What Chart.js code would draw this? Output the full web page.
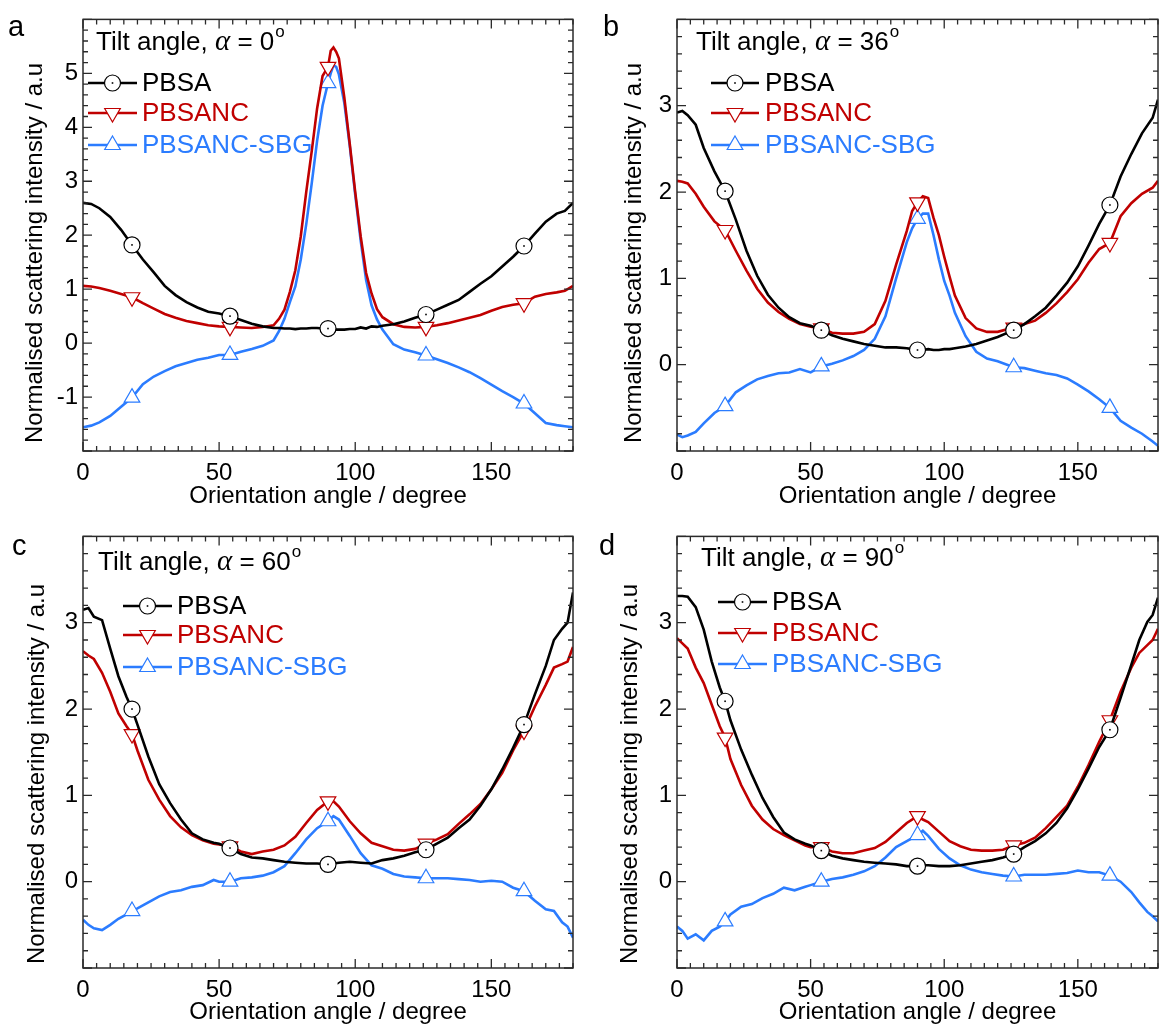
<!DOCTYPE html>
<html>
<head>
<meta charset="utf-8">
<script src="https://cdn.jsdelivr.net/npm/chart.js@4.4.1/dist/chart.umd.min.js"></script>
<style>
body{margin:0;background:#fff;}
.pane{position:absolute;}
</style>
</head>
<body>
<div class="pane" style="left:0;top:0"><canvas id="cA" width="585" height="515"></canvas></div>
<div class="pane" style="left:590px;top:0"><canvas id="cB" width="576" height="515"></canvas></div>
<div class="pane" style="left:0;top:517px"><canvas id="cC" width="585" height="513"></canvas></div>
<div class="pane" style="left:590px;top:517px"><canvas id="cD" width="576" height="513"></canvas></div>
<script>
// series names and marker positions (orientation angle, degree)
var names = ['PBSA', 'PBSANC', 'PBSANC-SBG'];
var marks = [18, 54, 90, 126, 162];

// a : tilt angle 0
var angA = [0,3,6,10,14,18,22,26,30,34,38,42,46,50,54,58,62,66,70,72,74,76,78,80,82,84,86,88,90,91,92,93,94,96,98,100,102,104,106,108,110,114,118,122,126,130,134,138,142,146,150,154,158,162,166,170,174,177,180];
var pbsaA = [2.60,2.58,2.50,2.34,2.10,1.82,1.55,1.31,1.06,0.89,0.76,0.66,0.58,0.55,0.50,0.43,0.36,0.31,0.28,0.28,0.27,0.27,0.26,0.27,0.27,0.28,0.28,0.27,0.27,0.26,0.26,0.25,0.25,0.25,0.26,0.26,0.29,0.27,0.31,0.30,0.32,0.35,0.40,0.47,0.53,0.62,0.71,0.80,0.95,1.10,1.24,1.42,1.60,1.80,2.03,2.25,2.40,2.45,2.60];
var ncA = [1.06,1.05,1.02,0.97,0.91,0.85,0.74,0.64,0.54,0.47,0.41,0.37,0.33,0.31,0.30,0.29,0.28,0.30,0.33,0.45,0.62,0.95,1.35,1.98,2.80,3.55,4.35,4.95,5.12,5.42,5.48,5.40,5.28,4.55,3.69,2.80,1.98,1.30,0.92,0.63,0.48,0.35,0.30,0.29,0.30,0.33,0.37,0.42,0.47,0.52,0.60,0.67,0.71,0.74,0.86,0.91,0.94,0.97,1.06];
var sbgA = [-1.56,-1.53,-1.47,-1.35,-1.18,-1.01,-0.76,-0.62,-0.52,-0.43,-0.37,-0.31,-0.27,-0.22,-0.22,-0.16,-0.11,-0.05,0.05,0.22,0.45,0.76,1.05,1.55,2.20,2.95,3.75,4.40,4.82,5.00,5.15,5.12,4.98,4.45,3.65,2.75,1.90,1.17,0.70,0.44,0.25,-0.02,-0.12,-0.17,-0.23,-0.30,-0.37,-0.45,-0.54,-0.65,-0.77,-0.89,-1.00,-1.12,-1.30,-1.48,-1.52,-1.54,-1.56];

// b : tilt angle 36
var angB = [0,2,4,7,10,14,18,22,26,30,34,38,42,46,50,54,58,62,66,70,74,78,82,86,88,90,92,94,96,98,100,102,104,108,112,116,120,126,130,134,138,142,146,150,154,158,162,166,170,174,178,180];
var pbsaB = [2.92,2.94,2.89,2.78,2.51,2.24,2.01,1.68,1.32,1.03,0.81,0.66,0.55,0.48,0.45,0.40,0.34,0.30,0.27,0.24,0.22,0.20,0.20,0.19,0.18,0.17,0.17,0.18,0.17,0.17,0.18,0.18,0.19,0.21,0.24,0.28,0.32,0.40,0.47,0.56,0.66,0.80,0.95,1.14,1.38,1.63,1.85,2.18,2.44,2.68,2.86,3.07];
var ncB = [2.13,2.12,2.10,1.98,1.83,1.66,1.56,1.32,1.09,0.88,0.72,0.61,0.53,0.47,0.44,0.42,0.37,0.36,0.36,0.38,0.47,0.74,1.16,1.55,1.78,1.88,1.95,1.93,1.70,1.50,1.25,1.02,0.80,0.54,0.42,0.38,0.38,0.43,0.47,0.51,0.60,0.71,0.84,0.99,1.18,1.34,1.41,1.72,1.87,1.98,2.05,2.13];
var sbgB = [-0.81,-0.84,-0.82,-0.78,-0.68,-0.56,-0.48,-0.32,-0.24,-0.17,-0.13,-0.10,-0.09,-0.05,-0.09,-0.02,0.01,0.05,0.10,0.17,0.30,0.56,1.00,1.42,1.58,1.69,1.75,1.75,1.50,1.22,0.97,0.80,0.60,0.33,0.15,0.07,0.04,-0.03,-0.04,-0.07,-0.10,-0.12,-0.16,-0.23,-0.31,-0.40,-0.50,-0.65,-0.73,-0.80,-0.89,-0.94];

// c : tilt angle 60,  d : tilt angle 90
var angCD = [0,2,4,7,10,13,16,18,20,24,28,32,36,40,44,48,50,54,58,62,66,70,74,78,82,86,90,92,94,98,102,106,110,114,118,122,126,130,134,138,142,146,150,154,158,162,166,170,173,176,178,180];
var pbsaC = [3.15,3.17,3.07,3.03,2.70,2.38,2.14,2.00,1.82,1.45,1.13,0.91,0.72,0.56,0.49,0.45,0.44,0.39,0.32,0.28,0.27,0.25,0.23,0.22,0.21,0.21,0.20,0.21,0.22,0.23,0.22,0.21,0.25,0.27,0.30,0.34,0.37,0.44,0.51,0.62,0.72,0.88,1.07,1.30,1.55,1.82,2.17,2.50,2.80,2.93,3.00,3.35];
var ncC = [2.67,2.62,2.58,2.42,2.20,1.95,1.80,1.71,1.52,1.18,0.95,0.76,0.63,0.54,0.48,0.44,0.43,0.41,0.35,0.32,0.35,0.37,0.42,0.52,0.68,0.83,0.93,0.93,0.87,0.70,0.56,0.45,0.41,0.37,0.36,0.38,0.44,0.49,0.55,0.67,0.78,0.90,1.07,1.26,1.52,1.75,2.03,2.28,2.48,2.52,2.55,2.72];
var sbgC = [-0.44,-0.50,-0.54,-0.56,-0.50,-0.43,-0.38,-0.34,-0.31,-0.24,-0.17,-0.12,-0.10,-0.06,-0.04,0.02,0.00,0.00,0.04,0.05,0.07,0.11,0.18,0.33,0.49,0.62,0.70,0.76,0.72,0.53,0.33,0.19,0.15,0.09,0.06,0.05,0.04,0.04,0.04,0.03,0.02,0.00,0.01,0.00,-0.07,-0.11,-0.22,-0.32,-0.34,-0.47,-0.52,-0.65];
var pbsaD = [3.31,3.31,3.30,3.18,2.92,2.55,2.25,2.09,1.87,1.53,1.24,0.97,0.75,0.57,0.49,0.44,0.42,0.36,0.30,0.27,0.25,0.23,0.22,0.21,0.20,0.18,0.18,0.19,0.19,0.18,0.18,0.19,0.21,0.23,0.25,0.28,0.32,0.40,0.47,0.56,0.68,0.85,1.07,1.31,1.56,1.76,2.13,2.51,2.80,3.01,3.09,3.29];
var ncD = [2.82,2.76,2.70,2.48,2.30,2.05,1.80,1.67,1.42,1.12,0.88,0.72,0.61,0.54,0.48,0.42,0.40,0.40,0.35,0.33,0.33,0.36,0.39,0.46,0.57,0.68,0.76,0.72,0.69,0.58,0.47,0.41,0.37,0.36,0.36,0.37,0.42,0.45,0.51,0.62,0.75,0.88,1.10,1.35,1.62,1.87,2.20,2.48,2.65,2.74,2.80,2.93];
var sbgD = [-0.52,-0.57,-0.66,-0.61,-0.68,-0.57,-0.52,-0.46,-0.38,-0.29,-0.26,-0.19,-0.14,-0.07,-0.10,-0.06,-0.04,0.00,0.03,0.05,0.08,0.12,0.18,0.28,0.40,0.47,0.54,0.59,0.53,0.38,0.27,0.19,0.14,0.11,0.09,0.07,0.06,0.08,0.08,0.08,0.09,0.10,0.13,0.11,0.11,0.07,0.00,-0.12,-0.24,-0.35,-0.40,-0.46];

var colors = ['#000000', '#c00000', '#2b7cff'];
var styles = ['circle', 'down', 'up'];
var FONT = '"Liberation Sans", Arial, sans-serif';

Chart.defaults.font.family = FONT;
Chart.defaults.color = '#000';

function drawMark(ctx, kind, x, y, color){
	ctx.save();
	ctx.fillStyle = '#fff';
	ctx.strokeStyle = color;
	ctx.lineWidth = 1.2;
	ctx.beginPath();
	if(kind == 'circle'){
		ctx.arc(x, y, 8, 0, Math.PI*2);
	}else{
		var r = 9, s = (kind == 'up') ? 1 : -1;
		ctx.moveTo(x, y - s*r);
		ctx.lineTo(x + r*0.866, y + s*r/2);
		ctx.lineTo(x - r*0.866, y + s*r/2);
		ctx.closePath();
	}
	ctx.fill();
	ctx.stroke();
	if(kind == 'circle'){
		ctx.fillStyle = color;
		ctx.fillRect(x - 0.8, y - 0.8, 1.6, 1.6);
	}
	ctx.restore();
}

// frame with inward ticks on all four sides
var framePlugin = {
	id: 'frame',
	afterDatasetsDraw: function(chart){
		var ctx = chart.ctx, a = chart.chartArea;
		var x = chart.scales.x, y = chart.scales.y;
		ctx.save();
		// dot in the middle of each PBSA circle
		var ang = chart.data.datasets[0].data;
		ctx.fillStyle = '#000';
		for(var i = 0; i < ang.length; i++){
			if(marks.indexOf(ang[i].x) < 0){ continue; }
			ctx.fillRect(x.getPixelForValue(ang[i].x) - 0.8, y.getPixelForValue(ang[i].y) - 0.8, 1.6, 1.6);
		}
		ctx.strokeStyle = '#2a2a2a';
		ctx.lineWidth = 1.5;
		ctx.strokeRect(a.left, a.top, a.right - a.left, a.bottom - a.top);
		ctx.lineWidth = 1.3;
		ctx.beginPath();
		for(var v = 0; v <= 180; v += 5){
			var px = x.getPixelForValue(v);
			var len = (v % 50 == 0) ? 9 : 5;
			ctx.moveTo(px, a.bottom); ctx.lineTo(px, a.bottom - len);
			ctx.moveTo(px, a.top); ctx.lineTo(px, a.top + len);
		}
		var n = Math.round((y.max - y.min) / 0.2);
		for(var k = 0; k <= n; k++){
			var yv = y.min + k*0.2;
			var py = y.getPixelForValue(yv);
			var ylen = (k % 5 == 0) ? 9 : 5;
			ctx.moveTo(a.left, py); ctx.lineTo(a.left + ylen, py);
			ctx.moveTo(a.right, py); ctx.lineTo(a.right - ylen, py);
		}
		ctx.stroke();
		ctx.restore();
	}
};

// panel letter, y title, tilt angle text, legend
var decoPlugin = {
	id: 'deco',
	afterDraw: function(chart, args, o){
		var ctx = chart.ctx;
		ctx.save();
		ctx.fillStyle = '#000';
		ctx.textBaseline = 'alphabetic';
		ctx.font = '29px ' + FONT;
		ctx.fillText(o.letter, o.letterPos[0], o.letterPos[1]);

		// y axis title, rotated
		ctx.save();
		ctx.translate(o.yTitle[0], o.yTitle[1]);
		ctx.rotate(-Math.PI/2);
		ctx.textAlign = 'center';
		ctx.font = '24px ' + FONT;
		ctx.fillText('Normalised scattering intensity / a.u', 0, 0);
		ctx.restore();

		var tx = o.tiltPos[0], ty = o.tiltPos[1];
		ctx.font = '26px ' + FONT;
		ctx.fillText('Tilt angle, ', tx, ty);
		tx += ctx.measureText('Tilt angle, ').width;
		ctx.font = 'italic 29px "Liberation Serif", "DejaVu Serif", serif';
		ctx.fillText('\u03b1', tx, ty);
		tx += ctx.measureText('\u03b1').width;
		ctx.font = '26px ' + FONT;
		ctx.fillText(' = ' + o.tilt, tx, ty);
		tx += ctx.measureText(' = ' + o.tilt).width;
		ctx.font = '17px ' + FONT;
		ctx.fillText('o', tx + 1, ty - 13);

		var lg = o.legend;
		ctx.textBaseline = 'middle';
		for(var i = 0; i < names.length; i++){
			var ry = lg.rows[i];
			ctx.strokeStyle = colors[i];
			ctx.lineWidth = 2.6;
			ctx.beginPath();
			ctx.moveTo(lg.x0, ry); ctx.lineTo(lg.x1, ry);
			ctx.stroke();
			drawMark(ctx, styles[i], (lg.x0 + lg.x1)/2, ry, colors[i]);
			ctx.fillStyle = colors[i];
			ctx.font = '26px ' + FONT;
			ctx.fillText(names[i], lg.tx, ry + 1);
		}
		ctx.restore();
	}
};

function makeData(ang, vals){
	var pts = new Array();
	for(var i = 0; i < ang.length; i++){
		pts[i] = {x: ang[i], y: vals[i]};
	}
	return pts;
}

function makeRadius(ang, r){
	return ang.map(function(a){ return marks.indexOf(a) >= 0 ? r : 0; });
}

function drawPanel(p){
	var datasets = new Array();
	for(var i = 0; i < 3; i++){
		datasets[i] = {
			label: names[i],
			data: makeData(p.ang, p.vals[i]),
			borderColor: colors[i],
			borderWidth: 2.6,
			tension: 0,
			pointStyle: i == 0 ? 'circle' : 'triangle',
			pointRotation: i == 1 ? 180 : 0,
			pointRadius: makeRadius(p.ang, i == 0 ? 8 : 9),
			pointHoverRadius: 0,
			pointBackgroundColor: '#fff',
			pointBorderColor: colors[i],
			pointBorderWidth: 1.2
		};
	}
	var ymin = p.ymin, ymax = p.ymax;
	new Chart(document.getElementById(p.id), {
		type: 'line',
		data: {datasets: datasets},
		plugins: [framePlugin, decoPlugin],
		options: {
			responsive: false,
			animation: false,
			devicePixelRatio: 1,
			layout: {padding: p.pad},
			plugins: {
				legend: {display: false},
				tooltip: {enabled: false},
				deco: {letter: p.letter, letterPos: p.letterPos, tilt: p.tilt, tiltPos: p.tiltPos, legend: p.legend, yTitle: p.yTitle}
			},
			scales: {
				x: {
					type: 'linear', min: 0, max: 180,
					grid: {display: false, drawTicks: false},
					border: {display: false},
					ticks: {
						stepSize: 50, autoSkip: false, maxRotation: 0, padding: 8,
						font: {size: 24},
						callback: function(v){ return (v % 50 == 0 && v < 180) ? v : ''; }
					},
					title: {display: true, text: 'Orientation angle / degree', font: {size: 24}, padding: {top: 0, bottom: p.xtPad}},
					afterFit: function(s){ s.height = p.xh; }
				},
				y: {
					type: 'linear', min: ymin, max: ymax,
					grid: {display: false, drawTicks: false},
					border: {display: false},
					ticks: {
						stepSize: 1, autoSkip: false, padding: 5,
						font: {size: 24},
						callback: function(v){ return (v > ymin && v < ymax) ? v : ''; }
					},
					title: {display: false},
					afterFit: function(s){ s.width = p.yw; }
				}
			}
		}
	});
}

var panels = [
	{id: 'cA', ang: angA, vals: [pbsaA, ncA, sbgA], ymin: -2, ymax: 6, yw: 83, xh: 64, xtPad: 4,
	 pad: {top: 13, right: 12, left: 0, bottom: 0}, letter: 'a', letterPos: [8, 36], tilt: '0', tiltPos: [96, 50],
	 yTitle: [42, 253], legend: {x0: 88, x1: 137, tx: 142, rows: [83, 113, 145]}},
	{id: 'cB', ang: angB, vals: [pbsaB, ncB, sbgB], ymin: -1, ymax: 4, yw: 87, xh: 64, xtPad: 4,
	 pad: {top: 13, right: 1, left: 0, bottom: 0}, letter: 'b', letterPos: [13, 36], tilt: '36', tiltPos: [106, 50],
	 yTitle: [51, 253], legend: {x0: 121, x1: 169, tx: 175, rows: [83, 113, 145]}},
	{id: 'cC', ang: angCD, vals: [pbsaC, ncC, sbgC], ymin: -1, ymax: 4, yw: 83, xh: 62, xtPad: 3,
	 pad: {top: 13, right: 12, left: 0, bottom: 0}, letter: 'c', letterPos: [12, 38], tilt: '60', tiltPos: [98, 53],
	 yTitle: [44, 257], legend: {x0: 123, x1: 172, tx: 177, rows: [89, 118, 150]}},
	{id: 'cD', ang: angCD, vals: [pbsaD, ncD, sbgD], ymin: -1, ymax: 4, yw: 87, xh: 62, xtPad: 3,
	 pad: {top: 13, right: 1, left: 0, bottom: 0}, letter: 'd', letterPos: [9, 38], tilt: '90', tiltPos: [111, 49],
	 yTitle: [47, 257], legend: {x0: 128, x1: 177, tx: 182, rows: [85, 116, 147]}}
];

for(var i = 0; i < panels.length; i++){
	drawPanel(panels[i]);
}
</script>
</body>
</html>
